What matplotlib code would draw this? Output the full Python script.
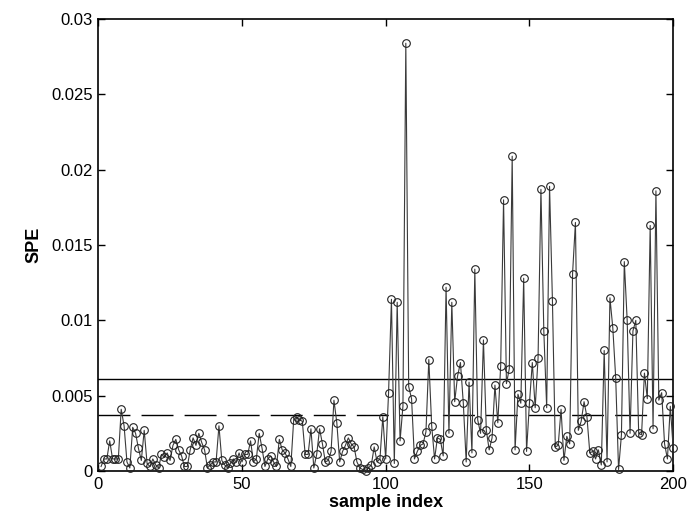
import matplotlib
matplotlib.use("Agg")
import matplotlib.pyplot as plt
import numpy as np

plt.rcParams['font.family'] = ['Liberation Sans', 'DejaVu Sans']

sample_index = list(range(1, 201))
spe = [
    # 1-50
    0.0003, 0.0008, 0.0008, 0.0020, 0.0008, 0.0008, 0.0008, 0.0041, 0.0030, 0.0006,
    0.0002, 0.0029, 0.0025, 0.0015, 0.0007, 0.0027, 0.0005, 0.0003, 0.0008, 0.0004,
    0.0002, 0.0011, 0.0009, 0.0012, 0.0007, 0.0017, 0.0021, 0.0014, 0.0010, 0.0003,
    0.0003, 0.0014, 0.0022, 0.0017, 0.0025, 0.0019, 0.0014, 0.0002, 0.0004, 0.0006,
    0.0006, 0.0030, 0.0007, 0.0004, 0.0002, 0.0005, 0.0008, 0.0006, 0.0012, 0.0006,
    # 51-100
    0.0011, 0.0011, 0.0020, 0.0006, 0.0008, 0.0025, 0.0015, 0.0003, 0.0008, 0.0010,
    0.0006, 0.0003, 0.0021, 0.0014, 0.0012, 0.0008, 0.0003, 0.0034, 0.0036, 0.0034,
    0.0033, 0.0011, 0.0011, 0.0028, 0.0002, 0.0011, 0.0028, 0.0018, 0.0006, 0.0007,
    0.0013, 0.0047, 0.0032, 0.0006, 0.0013, 0.0017, 0.0022, 0.0018, 0.0016, 0.0006,
    0.0002, 0.0001, 0.0000, 0.0002, 0.0004, 0.0016, 0.0006, 0.0008, 0.0036, 0.0008,
    # 101-150
    0.0052, 0.0114, 0.0005, 0.0112, 0.0020, 0.0043, 0.0284, 0.0056, 0.0048, 0.0008,
    0.0013, 0.0017, 0.0018, 0.0026, 0.0074, 0.0030, 0.0008, 0.0022, 0.0021, 0.0010,
    0.0122, 0.0025, 0.0112, 0.0046, 0.0063, 0.0072, 0.0045, 0.0006, 0.0059, 0.0012,
    0.0134, 0.0034, 0.0025, 0.0087, 0.0027, 0.0014, 0.0022, 0.0057, 0.0032, 0.0070,
    0.0180, 0.0058, 0.0068, 0.0209, 0.0014, 0.0051, 0.0045, 0.0128, 0.0013, 0.0045,
    # 151-200
    0.0072, 0.0042, 0.0075, 0.0187, 0.0093, 0.0042, 0.0189, 0.0113, 0.0016, 0.0017,
    0.0041, 0.0007, 0.0023, 0.0018, 0.0131, 0.0165, 0.0027, 0.0033, 0.0046, 0.0036,
    0.0012, 0.0013, 0.0008, 0.0014, 0.0004, 0.0080, 0.0006, 0.0115, 0.0095, 0.0062,
    0.0001, 0.0024, 0.0139, 0.0100, 0.0025, 0.0093, 0.0100, 0.0025, 0.0024, 0.0065,
    0.0048, 0.0163, 0.0028, 0.0186, 0.0047, 0.0052, 0.0018, 0.0008, 0.0043, 0.0015,
]

limit_99 = 0.0061
limit_95 = 0.0037

x_ticks = [0, 50, 100, 150, 200]
y_ticks = [0, 0.005, 0.01, 0.015, 0.02, 0.025, 0.03]
y_tick_labels = ['0', '0.005', '0.01', '0.015', '0.02', '0.025', '0.03']

fig = plt.figure(figsize=(6.94, 5.31), dpi=100)
ax = fig.add_axes([0.1415, 0.113, 0.8285, 0.851])

ax.plot(sample_index, spe, color='#3a3a3a', lw=0.8, marker='o', ms=5.5,
        mfc='none', mec='#222222', mew=0.8, clip_on=False, zorder=3)
ax.axhline(limit_99, color='black', lw=1.0, zorder=2)
ax.axhline(limit_95, color='black', lw=1.0, dashes=(23, 8), zorder=2)

ax.set_xlim(0, 200)
ax.set_ylim(0, 0.03)
ax.set_xticks(x_ticks)
ax.set_yticks(y_ticks)
ax.set_yticklabels(y_tick_labels)
ax.tick_params(direction='in', top=True, right=True, length=5, width=1,
               labelsize=12, pad=4)
for s in ax.spines.values():
    s.set_linewidth(1.2)

ax.set_xlabel('sample index', fontsize=13, fontweight='bold', labelpad=2)
ax.set_ylabel('SPE', fontsize=13, fontweight='bold', labelpad=6)

fig.savefig('out.png', dpi=100)
